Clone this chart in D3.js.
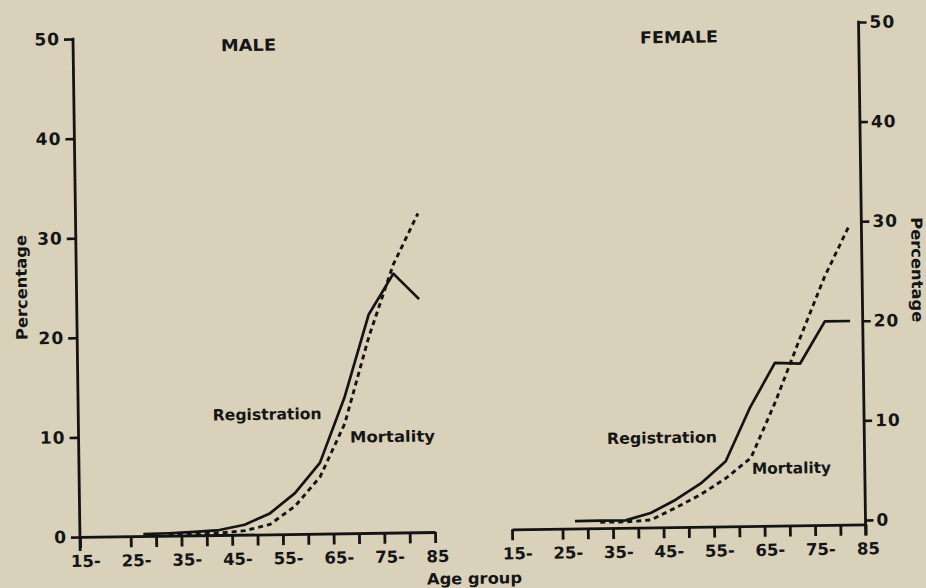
<!DOCTYPE html>
<html>
<head>
<meta charset="utf-8">
<script src="https://cdn.jsdelivr.net/npm/d3@7/dist/d3.min.js"></script>
<style>
  html, body { margin: 0; padding: 0; background: #d9d1b9; }
  svg { display: block; }
  text { font-family: "DejaVu Sans", sans-serif; font-weight: bold; fill: #151515; }
</style>
</head>
<body>
<svg width="926" height="588"></svg>
<script>
// age group mid points (5-year groups 25- ... 80-)
var ageMid = [27.5, 32.5, 37.5, 42.5, 47.5, 52.5, 57.5, 62.5, 67.5, 72.5, 77.5, 82.5];

var maleRegistration = [0.2, 0.25, 0.35, 0.5, 1.0, 2.1, 4.1, 7.1, 13.6, 21.9, 26.0, 23.4];
var maleMortality    = [null, 0.1, 0.15, 0.2, 0.4, 1.0, 2.8, 5.7, 11.0, 19.7, 26.9, 32.0];

var femaleRegistration = [0.3, 0.3, 0.3, 1.0, 2.3, 3.9, 6.1, 11.5, 15.9, 15.8, 20.0, 20.0];
var femaleMortality    = [null, 0.15, 0.15, 0.3, 1.5, 2.8, 4.4, 6.4, 12.0, 18.3, 24.4, 29.5];

var xTicks = [15, 25, 30, 35, 40, 45, 50, 55, 60, 65, 70, 75, 80, 85];
var xTickLabels = { 15: "15-", 25: "25-", 35: "35-", 45: "45-", 55: "55-", 65: "65-", 75: "75-", 85: "85" };
var yTicks = [0, 10, 20, 30, 40, 50];

var ink = "#141414";
var svg = d3.select("svg");
// the printed page is scanned slightly askew
var page = svg.append("g").attr("transform", "rotate(-0.8 463 294)");

var line = function (x, y) {
  return d3.line()
    .defined(function (d) { return d.v != null; })
    .x(function (d) { return x(d.age); })
    .y(function (d) { return y(d.v); });
};

function series(vals) {
  return ageMid.map(function (a, i) { return { age: a, v: vals[i] }; });
}

function xAxis(g, x, y0) {
  var ax = g.append("g")
    .attr("transform", "translate(0," + y0 + ")")
    .call(d3.axisBottom(x).tickValues(xTicks).tickSize(11).tickSizeOuter(0)
      .tickFormat(function (d) { return xTickLabels[d] || ""; }));
  ax.select(".domain").attr("stroke", ink).attr("stroke-width", 2.8);
  ax.selectAll(".tick line").attr("stroke", ink).attr("stroke-width", 2.8);
  ax.selectAll(".tick text")
    .attr("y", 30).attr("dy", 0)
    .attr("dx", function (d) { return d == 85 ? 2 : 5; })
    .attr("fill", ink)
    .style("font-size", "16.5px");
  ax.attr("font-family", null).attr("font-size", null);
}

// ---------- MALE ----------
var xM = d3.scaleLinear().domain([15, 85]).range([76.6, 431.7]);
var yM = d3.scaleLinear().domain([0, 50]).range([531.6, 33.6]);
var male = page.append("g");

var yaxM = male.append("g")
  .attr("transform", "translate(" + xM(15) + ",0)")
  .call(d3.axisLeft(yM).tickValues(yTicks).tickSize(9).tickPadding(4).tickSizeOuter(0));
yaxM.select(".domain").remove();
yaxM.selectAll(".tick line").attr("stroke", ink).attr("stroke-width", 2.6);
yaxM.selectAll(".tick text").attr("fill", ink).style("font-size", "17px").style("letter-spacing", "1px");
yaxM.attr("font-family", null).attr("font-size", null);
male.append("line")
  .attr("x1", xM(15)).attr("x2", xM(15))
  .attr("y1", yM(50) - 1.3).attr("y2", yM(0) + 14)
  .attr("stroke", ink).attr("stroke-width", 2.8);
xAxis(male, xM, yM(0));

male.append("path").datum(series(maleRegistration))
  .attr("d", line(xM, yM)).attr("fill", "none")
  .attr("stroke", ink).attr("stroke-width", 2.7).attr("stroke-linejoin", "round");
male.append("path").datum(series(maleMortality))
  .attr("d", line(xM, yM)).attr("fill", "none")
  .attr("stroke", ink).attr("stroke-width", 2.9).attr("stroke-dasharray", "5,4");

// ---------- FEMALE ----------
var xF = d3.scaleLinear().domain([15, 85]).range([508.7, 862.3]);
var yF = d3.scaleLinear().domain([0, 50]).range([525.6, 27.6]);
var female = page.append("g");

var yaxF = female.append("g")
  .attr("transform", "translate(" + xF(85) + ",0)")
  .call(d3.axisRight(yF).tickValues(yTicks).tickSize(8).tickPadding(3).tickSizeOuter(0));
yaxF.select(".domain").remove();
yaxF.selectAll(".tick line").attr("stroke", ink).attr("stroke-width", 2.6);
yaxF.selectAll(".tick text").attr("fill", ink).style("font-size", "17px").style("letter-spacing", "1px");
yaxF.attr("font-family", null).attr("font-size", null);
female.append("line")
  .attr("x1", xF(85)).attr("x2", xF(85))
  .attr("y1", yF(50) - 1.3).attr("y2", 541)
  .attr("stroke", ink).attr("stroke-width", 2.8);
xAxis(female, xF, 530);

female.append("path").datum(series(femaleRegistration))
  .attr("d", line(xF, yF)).attr("fill", "none")
  .attr("stroke", ink).attr("stroke-width", 2.7).attr("stroke-linejoin", "round");
female.append("path").datum(series(femaleMortality))
  .attr("d", line(xF, yF)).attr("fill", "none")
  .attr("stroke", ink).attr("stroke-width", 2.9).attr("stroke-dasharray", "5,4");

// ---------- labels ----------
function label(g, txt, x, y, len, size, anchor, rot) {
  var t = g.append("text")
    .attr("x", x).attr("y", y)
    .attr("text-anchor", anchor || "start")
    .attr("textLength", len).attr("lengthAdjust", "spacingAndGlyphs")
    .style("font-size", size + "px")
    .text(txt);
  if (rot) t.attr("transform", "rotate(" + rot + " " + x + " " + y + ")");
  return t;
}

label(page, "MALE", 252, 48, 55, 16.5, "middle");
label(page, "FEMALE", 682.5, 46, 78, 16.5, "middle");
label(page, "Registration", 211, 417, 109, 15.5);
label(page, "Mortality", 348, 441, 85, 15.5);
label(page, "Registration", 605, 446, 110, 15.5);
label(page, "Mortality", 749.5, 478, 79, 15.5);
label(page, "Percentage", 27, 281.4, 105, 15.5, "middle", -90);
label(page, "Percentage", 912, 276, 105, 15.5, "middle", 90);
label(page, "Age group", 423, 584, 95, 15.5);
</script>
</body>
</html>
